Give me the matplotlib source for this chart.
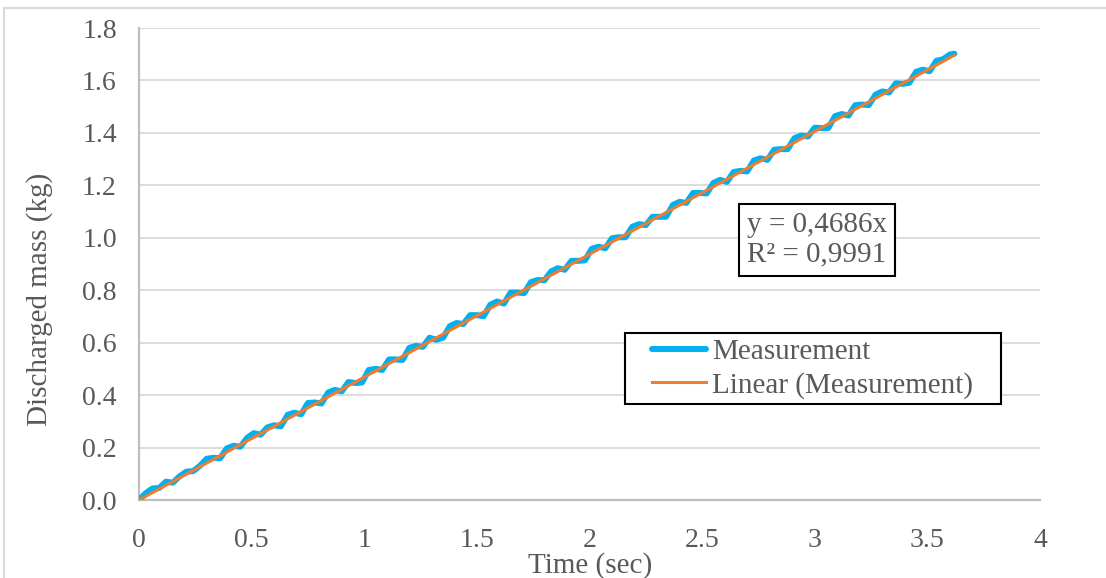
import numpy as np
import matplotlib
matplotlib.use("Agg")
import matplotlib.pyplot as plt
from matplotlib.patches import Rectangle

# measured discharged mass, sampled every 0.03 s (last sample at 3.62 s)
time_s = [round(0.03 * i, 2) for i in range(121)] + [3.62]
mass_kg = [
    0.000, 0.026, 0.044, 0.046, 0.070, 0.066, 0.090, 0.108, 0.110, 0.130,
    0.157, 0.161, 0.159, 0.197, 0.207, 0.203, 0.237, 0.255, 0.249, 0.277,
    0.285, 0.281, 0.325, 0.333, 0.327, 0.370, 0.372, 0.368, 0.410, 0.420,
    0.414, 0.450, 0.446, 0.448, 0.496, 0.500, 0.496, 0.536, 0.536, 0.534,
    0.580, 0.588, 0.584, 0.619, 0.611, 0.619, 0.663, 0.675, 0.671, 0.705,
    0.705, 0.701, 0.745, 0.757, 0.749, 0.791, 0.791, 0.789, 0.831, 0.839,
    0.838, 0.872, 0.884, 0.878, 0.912, 0.912, 0.914, 0.958, 0.966, 0.960,
    0.998, 1.002, 1.002, 1.042, 1.052, 1.048, 1.080, 1.080, 1.080, 1.125,
    1.137, 1.133, 1.171, 1.171, 1.169, 1.209, 1.221, 1.213, 1.251, 1.255,
    1.253, 1.295, 1.303, 1.297, 1.336, 1.338, 1.338, 1.380, 1.390, 1.386,
    1.420, 1.418, 1.418, 1.464, 1.472, 1.466, 1.506, 1.508, 1.506, 1.546,
    1.558, 1.554, 1.589, 1.587, 1.591, 1.633, 1.641, 1.635, 1.675, 1.681,
    1.699, 1.702,
]
fit_slope = 0.4686
fit_r2 = 0.9991

x_ticks = [0, 0.5, 1, 1.5, 2, 2.5, 3, 3.5, 4]
x_ticklabels = ["0", "0.5", "1", "1.5", "2", "2.5", "3", "3.5", "4"]
y_ticks = [0.0, 0.2, 0.4, 0.6, 0.8, 1.0, 1.2, 1.4, 1.6, 1.8]

BLUE = "#00B0F0"
ORANGE = "#ED7D31"
TXT = "#595959"
W, H = 1106, 578

plt.rcParams["font.family"] = ["Liberation Serif", "DejaVu Serif"]


def fx(px):
    return px / W


def fy(py):
    return 1 - py / H


fig = plt.figure(figsize=(W / 100, H / 100), dpi=100)
ax = fig.add_axes([fx(139), fy(500), fx(1040) - fx(139), fy(28) - fy(500)])

# chart-area border (only left/top visible in the crop)
fig.patches.append(Rectangle((fx(4), -0.05), 1.05, fy(8) + 0.05,
                             transform=fig.transFigure, fill=False,
                             ec="#D9D9D9", lw=1.5, clip_on=False))

ax.plot(time_s, mass_kg, color=BLUE, lw=4.3, solid_capstyle="round",
        solid_joinstyle="round", label="Measurement", zorder=3)
tt = np.array([0.0, time_s[-1]])
ax.plot(tt, fit_slope * tt, color=ORANGE, lw=2.2,
        label="Linear (Measurement)", zorder=4)

ax.set_xlim(0, 4)
ax.set_ylim(0, 1.8)
ax.set_xticks(x_ticks)
ax.set_xticklabels(x_ticklabels)
ax.set_yticks(y_ticks)
ax.set_yticklabels([f"{v:.1f}" for v in y_ticks])
ax.tick_params(length=0, labelsize=20, colors=TXT)
ax.tick_params(axis="x", pad=20)
ax.tick_params(axis="y", pad=16)
ax.grid(axis="y", color="#D9D9D9", lw=1.3)
ax.set_axisbelow(True)
for s in ("top", "right"):
    ax.spines[s].set_visible(False)
for s in ("left", "bottom"):
    ax.spines[s].set_color("#BFBFBF")
    ax.spines[s].set_linewidth(1.6)

fig.text(fx(590), fy(566), "Time (sec)", ha="center", va="center",
         fontsize=21, color=TXT)
fig.text(fx(40), fy(299), "Discharged mass (kg)", ha="center", va="center",
         rotation=90, fontsize=21, color=TXT)

# trendline equation box
ax.text((747 - 139) / 901, (500 - 240) / 472,
        f"y = {fit_slope:.4f}x\nR\u00b2 = {fit_r2:.4f}".replace(".", ","),
        transform=ax.transAxes, ha="left", va="center", fontsize=21,
        color=TXT, linespacing=1.15,
        bbox=dict(boxstyle="square,pad=0.28", fc="white", ec="black", lw=1.5))

# legend: frameless, with its own box drawn behind
fig.patches.append(Rectangle((fx(625), fy(404)), fx(1001) - fx(625),
                             fy(333) - fy(404), transform=fig.transFigure,
                             fc="white", ec="black", lw=1.5, zorder=5))
leg = fig.legend(loc="upper left", bbox_to_anchor=(fx(652), fy(339)),
                 frameon=False, fontsize=21, handlelength=1.85,
                 handletextpad=0.2, borderpad=0, borderaxespad=0,
                 labelspacing=0.22, labelcolor=TXT)
leg.set_zorder(6)

fig.savefig("out.png", dpi=100)
